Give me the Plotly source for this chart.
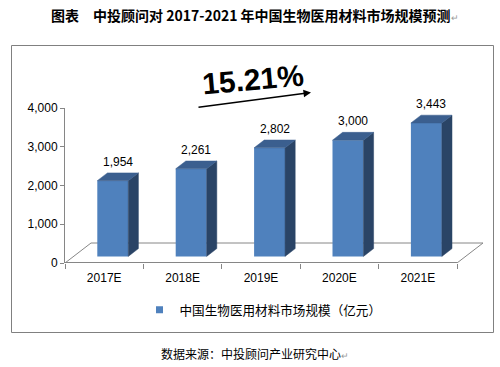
import plotly.graph_objects as go

# ---------------- data ----------------
categories = ["2017E", "2018E", "2019E", "2020E", "2021E"]
values = [1954, 2261, 2802, 3000, 3443]
y_ticks = [0, 1000, 2000, 3000, 4000]
series_name = "中国生物医用材料市场规模（亿元）"
growth_label = "15.21%"
title_text = "图表　中投顾问对 2017-2021 年中国生物医用材料市场规模预测"
source_text = "数据来源：中投顾问产业研究中心"

# ---------------- layout geometry ----------------
W, H = 500, 367
ML, MR, MT, MB = 65, 10, 108, 104
PW, PH = W - ML - MR, H - MT - MB
X_PX = 78.4                      # pixels per category
Y_MAX = 4000
x_range = [-0.5, -0.5 + PW / X_PX]
n = len(categories)

FLOOR_DX = 26 / X_PX             # oblique depth (x units)
FLOOR_DY = 20 / PH * Y_MAX       # oblique depth (y units)
BAR_FRONT, BAR_BACK = 0.33, 0.72
BAR_W = 0.395
FRONT_C, TOP_C, SIDE_C = "#4F81BD", "#3B5F8F", "#2A4466"
GRID_C = "#868686"

def px(x):  # pixel -> paper x
    return (x - ML) / PW

def py(y):  # pixel -> paper y
    return (MT + PH - y) / PH

off_x = BAR_FRONT * FLOOR_DX
base = BAR_FRONT * FLOOR_DY
bdx = (BAR_BACK - BAR_FRONT) * FLOOR_DX
bdy = (BAR_BACK - BAR_FRONT) * FLOOR_DY
xs = [i + off_x for i in range(n)]

fig = go.Figure()

# front faces
fig.add_trace(go.Bar(
    x=xs, y=values, base=[base] * n, width=BAR_W,
    marker=dict(color=FRONT_C, line=dict(width=0)),
    showlegend=False, hoverinfo="skip"))

# side and top faces (derived from data)
sx, sy, tx, ty = [], [], [], []
for xc, v in zip(xs, values):
    xl, xr = xc - BAR_W / 2, xc + BAR_W / 2
    t = base + v
    sx += [xr, xr + bdx, xr + bdx, xr, xr, None]
    sy += [base, base + bdy, t + bdy, t, base, None]
    tx += [xl, xl + bdx, xr + bdx, xr, xl, None]
    ty += [t, t + bdy, t + bdy, t, t, None]
fig.add_trace(go.Scatter(x=sx, y=sy, mode="lines", fill="toself", fillcolor=SIDE_C,
                         line=dict(width=0.5, color=SIDE_C), showlegend=False, hoverinfo="skip"))
fig.add_trace(go.Scatter(x=tx, y=ty, mode="lines", fill="toself", fillcolor=TOP_C,
                         line=dict(width=0.5, color=TOP_C), showlegend=False, hoverinfo="skip"))

# legend-only entry
fig.add_trace(go.Scatter(x=[None], y=[None], mode="markers", name=series_name,
                         marker=dict(symbol="square", size=7, color=FRONT_C)))

# floor outline
x0, x1 = -0.5, n - 0.5
shapes = [
    dict(type="line", xref="x", yref="y", x0=x0, y0=0, x1=x1, y1=0,
         line=dict(color=GRID_C, width=2), layer="below"),
    dict(type="line", xref="x", yref="y", x0=x0 + FLOOR_DX, y0=FLOOR_DY, x1=x1 + FLOOR_DX, y1=FLOOR_DY,
         line=dict(color=GRID_C, width=1), layer="below"),
    dict(type="line", xref="x", yref="y", x0=x0, y0=0, x1=x0 + FLOOR_DX, y1=FLOOR_DY,
         line=dict(color=GRID_C, width=1), layer="below"),
    dict(type="line", xref="x", yref="y", x0=x1, y0=0, x1=x1 + FLOOR_DX, y1=FLOOR_DY,
         line=dict(color=GRID_C, width=1), layer="below"),
    # chart border
    dict(type="rect", xref="paper", yref="paper", x0=px(11.5), x1=px(493.5), y0=py(332.5), y1=py(45.5),
         line=dict(color="#808080", width=1), layer="below"),
]

annotations = []
for xc, v in zip(xs, values):
    annotations.append(dict(x=xc + bdx / 2, y=base + v + bdy, xref="x", yref="y",
                            text=f"{v:,}", showarrow=False, xanchor="center", yanchor="bottom", yshift=2,
                            font=dict(family="Liberation Sans, Arial", size=12, color="#000")))

annotations += [
    dict(x=px(255), y=py(15), xref="paper", yref="paper", showarrow=False,
         xanchor="center", yanchor="middle",
         text="<b>" + title_text + "</b><span style='color:#999999;font-size:9px'>↵</span>",
         font=dict(family="Noto Sans CJK SC", size=14, color="#000")),
    dict(x=px(253), y=py(79), xref="paper", yref="paper", showarrow=False,
         xanchor="center", yanchor="middle",
         text="<b>" + growth_label + "</b>", textangle=-5,
         font=dict(family="Liberation Sans, Arial", size=30, color="#000")),
    dict(x=px(311), y=py(92.5), xref="paper", yref="paper", text="", showarrow=True,
         ax=-114, ay=15, arrowhead=2, arrowsize=1, arrowwidth=1.5, arrowcolor="#000"),
    dict(x=px(255), y=py(353), xref="paper", yref="paper", showarrow=False,
         xanchor="center", yanchor="middle",
         text=source_text + "<span style='color:#999999;font-size:9px'>↵</span>",
         font=dict(family="Noto Sans CJK SC", size=12, color="#000")),
]

fig.update_layout(
    width=W, height=H,
    margin=dict(l=ML, r=MR, t=MT, b=MB, pad=0, autoexpand=False),
    paper_bgcolor="white", plot_bgcolor="white",
    shapes=shapes, annotations=annotations,
    showlegend=True,
    legend=dict(orientation="h", x=px(263), xanchor="center", y=py(310), yanchor="middle",
                font=dict(family="Noto Sans CJK SC", size=12.6, color="#000"),
                bgcolor="rgba(0,0,0,0)"),
    xaxis=dict(range=x_range, tickmode="array", tickvals=list(range(n)), ticktext=categories,
               ticks="", showgrid=False, zeroline=False, showline=False, fixedrange=True,
               ticklabelstandoff=6,
               tickfont=dict(family="Liberation Sans, Arial", size=12, color="#000"),
               minor=dict(tickmode="array", tickvals=[i - 0.5 for i in range(n + 1)],
                          ticks="outside", ticklen=5, tickcolor=GRID_C, showgrid=False)),
    yaxis=dict(range=[0, Y_MAX], tickmode="array", tickvals=y_ticks, tickformat=",d",
               ticks="outside", ticklen=4, tickcolor=GRID_C, showgrid=False, zeroline=False,
               showline=True, linecolor=GRID_C, linewidth=1, fixedrange=True,
               tickfont=dict(family="Liberation Sans, Arial", size=12, color="#000")),
)

fig.write_html("out.html", config={"displayModeBar": False},
               post_script="document.body.style.margin='0';")
